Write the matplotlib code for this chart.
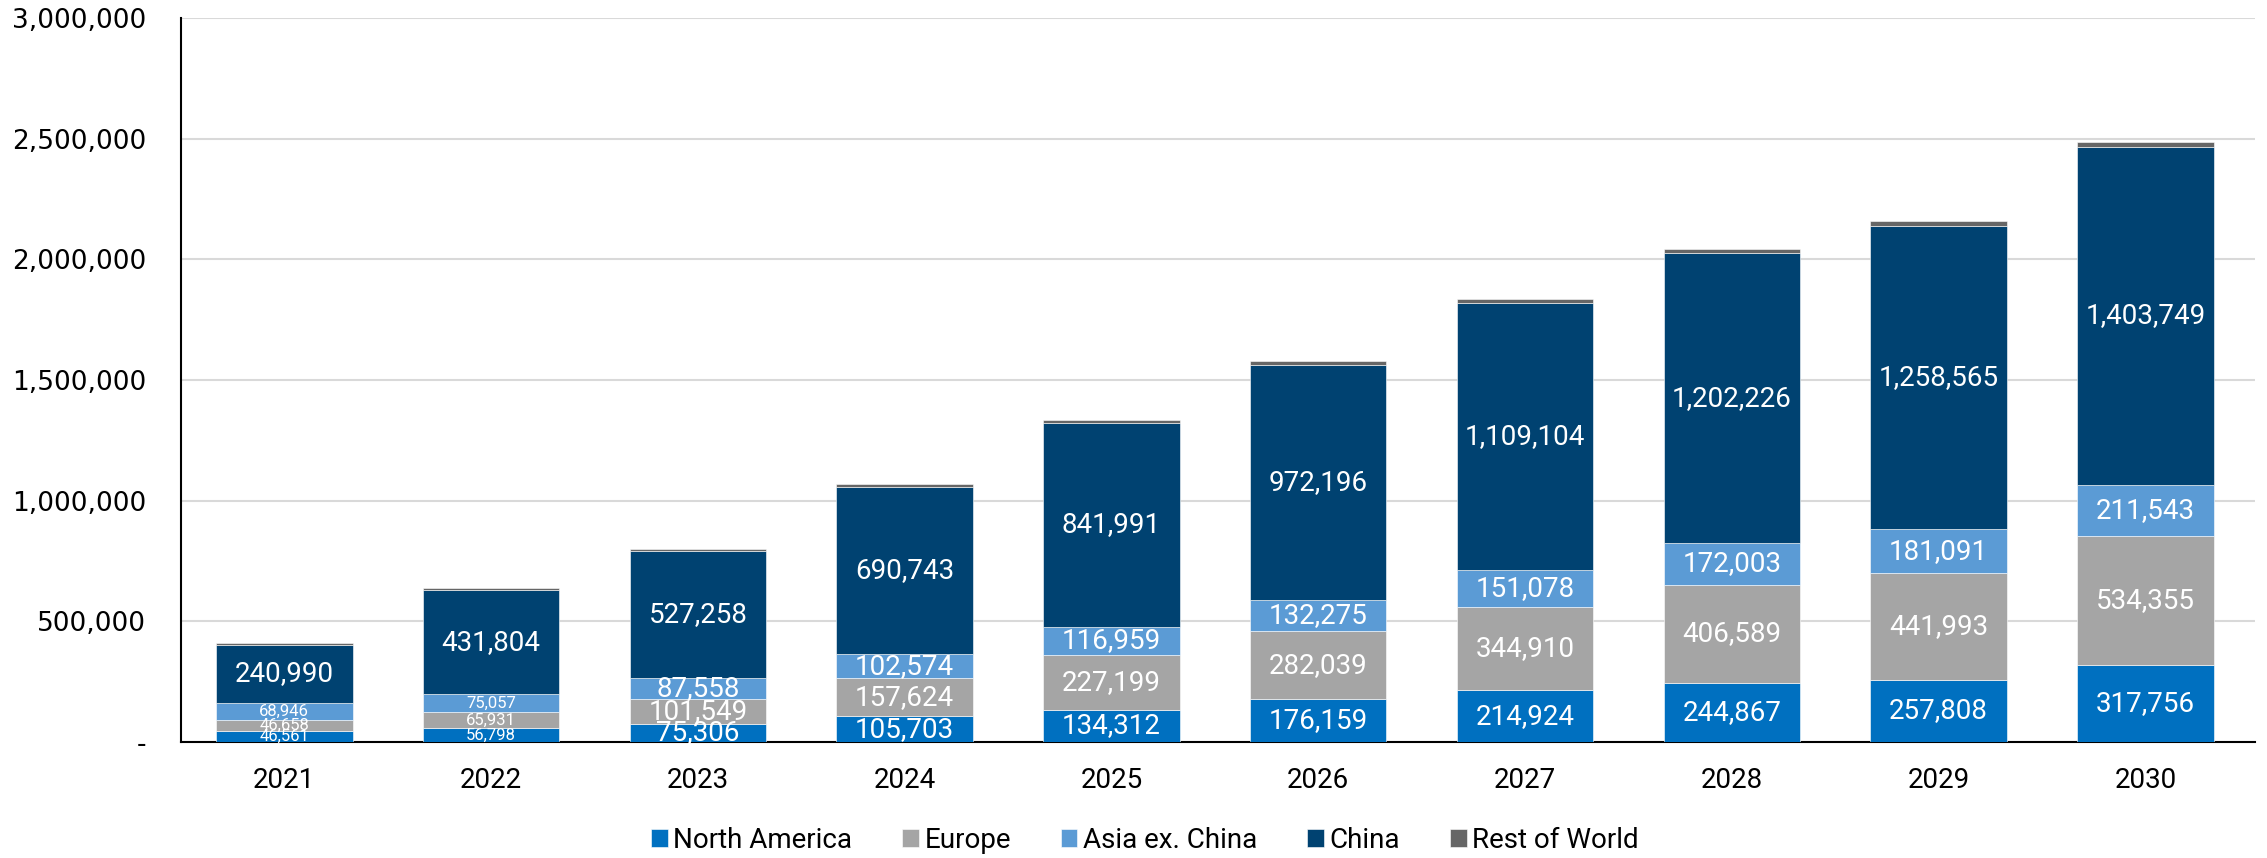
import matplotlib.pyplot as plt
import numpy as np
from matplotlib.ticker import FuncFormatter

years = ['2021', '2022', '2023', '2024', '2025', '2026', '2027', '2028', '2029', '2030']
north_america = [46561, 56798, 75306, 105703, 134312, 176159, 214924, 244867, 257808, 317756]
europe = [46658, 65931, 101549, 157624, 227199, 282039, 344910, 406589, 441993, 534355]
asia_ex_china = [68946, 75057, 87558, 102574, 116959, 132275, 151078, 172003, 181091, 211543]
china = [240990, 431804, 527258, 690743, 841991, 972196, 1109104, 1202226, 1258565, 1403749]
rest_of_world = [6000, 8000, 10000, 11000, 14000, 15000, 16000, 17000, 18000, 19000]

series = [
    ('North America', north_america, '#0070C0'),
    ('Europe', europe, '#A5A5A5'),
    ('Asia ex. China', asia_ex_china, '#5B9BD5'),
    ('China', china, '#004271'),
    ('Rest of World', rest_of_world, '#666666'),
]

label_font = ['Roboto', 'DejaVu Sans']

fig = plt.figure(figsize=(22.67, 8.58), dpi=100)
ax = fig.add_axes([0.0798, 0.1352, 0.9149, 0.8438])

x = np.arange(len(years))
bottom = np.zeros(len(years))
for name, vals, col in series:
    vals = np.array(vals, dtype=float)
    ax.bar(x, vals, width=0.66, bottom=bottom, color=col, label=name,
           edgecolor='white', linewidth=0.4, zorder=3)
    if name != 'Rest of World':
        for i, v in enumerate(vals):
            small = i < 2 and name != 'China'
            ax.text(x[i], bottom[i] + v / 2, f'{int(v):,}', ha='center', va='center',
                    color='white', fontsize=12 if small else 20, family=label_font,
                    zorder=4)
    bottom += vals

ax.set_xlim(-0.5, 9.53)
ax.set_ylim(0, 3000000)
ax.set_yticks(np.arange(0, 3000001, 500000))
ax.yaxis.set_major_formatter(FuncFormatter(lambda v, p: '-' if v == 0 else f'{int(v):,}'))
ax.set_xticks(x)
ax.set_xticklabels(years, family=label_font, fontsize=20)
ax.tick_params(axis='y', length=0, pad=25, labelsize=19)
ax.tick_params(axis='x', length=0, pad=18)
ax.grid(axis='y', color='#D9D9D9', linewidth=1.5, zorder=0)
ax.set_axisbelow(True)
for s in ['top', 'right']:
    ax.spines[s].set_visible(False)
ax.spines['left'].set_linewidth(1.5)
ax.spines['bottom'].set_linewidth(1.5)

fig.legend(loc='lower center', bbox_to_anchor=(0.505, -0.024), ncol=5, frameon=False,
           prop={'family': label_font, 'size': 20}, handlelength=0.6, handleheight=0.6,
           handletextpad=0.2, columnspacing=1.8)

fig.savefig('out.png', dpi=100)
